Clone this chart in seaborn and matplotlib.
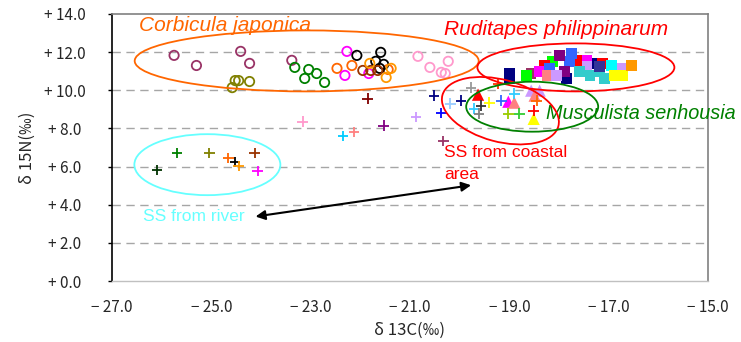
import matplotlib
matplotlib.use("Agg")
import matplotlib.pyplot as plt
import matplotlib.transforms as mtransforms
import seaborn as sns
import pandas as pd
from matplotlib.patches import Ellipse

# ---------------- data ----------------
# Corbicula japonica (open circles)
corb_x = [-25.75, -25.30, -24.41, -24.23, -23.38,
          -24.58, -24.52, -24.45, -24.23,
          -23.32, -23.12, -23.04, -22.88, -22.72,
          -22.47, -22.17, -21.44,
          -22.27, -22.31, -21.83,
          -22.07, -21.59, -21.69, -21.53, -21.61,
          -21.95, -21.79, -21.65,
          -21.81, -21.48, -21.38,
          -20.84, -20.60, -20.23, -20.37, -20.29]
corb_y = [11.83, 11.30, 12.04, 11.41, 11.57,
          10.14, 10.51, 10.51, 10.46,
          11.20, 10.62, 11.09, 10.88, 10.41,
          11.15, 11.30, 11.09,
          12.04, 10.78, 10.88,
          11.83, 11.99, 11.52, 11.36, 11.15,
          11.04, 11.04, 11.04,
          11.41, 10.67, 11.15,
          11.78, 11.20, 11.52, 10.94, 10.88]
corb_c = ["#993366"] * 5 + ["#808000"] * 4 + ["#008000"] * 5 + ["#ff6600"] * 3 + \
         ["#ff00ff"] * 3 + ["#000000"] * 5 + ["#993300"] * 3 + ["#ff9900"] * 3 + ["#ff99cc"] * 5

# Ruditapes philippinarum (filled squares)
rud_x = [-19.00, -19.00, -17.85, -17.32,
         -18.56,
         -18.66, -18.13, -17.48,
         -18.29, -17.59, -17.12,
         -18.39, -17.44,
         -17.75, -18.19, -17.79,
         -17.99, -17.89,
         -18.23,
         -18.05, -17.44, -16.74,
         -17.59, -17.38, -17.18, -17.08,
         -16.94,
         -17.18,
         -16.88, -16.72,
         -16.54]
rud_y = [10.88, 10.62, 10.62, 11.41,
         10.88,
         10.78, 11.52, 11.57,
         11.30, 11.57, 11.41,
         10.99, 11.57,
         11.94, 11.15, 11.52,
         11.83, 10.99,
         10.78,
         10.78, 11.25, 11.15,
         10.99, 10.78, 10.99, 10.62,
         11.30,
         11.25,
         10.78, 10.78,
         11.30]
rud_c = ["#000080"] * 4 + ["#993366"] + ["#00ff00"] * 3 + ["#ff0000"] * 3 + ["#ff00ff"] * 2 + \
        ["#3366ff"] * 3 + ["#800080"] * 2 + ["#ff8080"] + ["#cc99ff"] * 3 + ["#33cccc"] * 4 + \
        ["#00ffff"] + ["#333399"] + ["#ffff00"] * 2 + ["#ff9900"]

# Musculista senhousia (filled triangles)
mus_x = [-19.63, -19.02, -18.90, -18.56, -18.39, -18.49, -18.51]
mus_y = [9.77, 9.40, 9.35, 9.98, 9.98, 9.72, 8.50]
mus_c = ["#ff0000", "#ff00ff", "#ff8080", "#cc99ff", "#cc99ff", "#ff8080", "#ffff00"]

# Suspended solids (plus markers)
ss_x = [-26.09, -25.69, -25.04, -24.66, -24.52, -24.45, -24.13, -24.07,
        -21.85, -23.16, -22.35, -22.13, -21.53, -20.88, -20.33, -20.52, -20.37, -20.19,
        -19.97, -19.77, -19.22, -19.57, -19.40, -19.71, -19.61, -19.16, -18.90,
        -18.45, -19.02, -18.80, -18.51]
ss_y = [5.81, 6.71, 6.71, 6.44, 6.23, 6.02, 6.71, 5.76,
        9.56, 8.35, 7.61, 7.82, 8.14, 8.61, 7.34, 9.72, 8.82, 9.30,
        9.46, 10.14, 10.35, 9.19, 9.35, 9.03, 8.77, 9.46, 9.83,
        9.46, 8.77, 8.77, 8.93]
ss_c = ["#003300", "#008000", "#808000", "#ff6600", "#000000", "#ff9900", "#993300", "#ff00ff",
        "#800000", "#ff99cc", "#00ccff", "#ff8080", "#800080", "#cc99ff", "#993366", "#000080",
        "#0000ff", "#99ccff",
        "#000080", "#999999", "#ff3300", "#333333", "#ffff00", "#33ccff", "#808080", "#3366ff",
        "#33ccff", "#ff6600", "#99cc00", "#33cc33", "#ff0000"]

xticks = [-27, -25, -23, -21, -19, -17, -15]
xticklabels = ["− 27.0", "− 25.0", "− 23.0", "− 21.0", "− 19.0", "− 17.0", "− 15.0"]
yticks = [0, 2, 4, 6, 8, 10, 12, 14]
yticklabels = ["+ 0.0", "+ 2.0", "+ 4.0", "+ 6.0", "+ 8.0", "+ 10.0", "+ 12.0", "+ 14.0"]

# ---------------- plot ----------------
sns.set_style("white")
plt.rcParams["font.family"] = ["Noto Sans CJK JP", "DejaVu Sans"]

fig = plt.figure(figsize=(7.41, 3.42), dpi=100)
ax = fig.add_axes([112 / 741, 1 - 281 / 342, 596 / 741, 267 / 342])

ax.set_xlim(-27, -15)
ax.set_ylim(0, 14)
for yv in yticks[1:-1]:
    ax.axhline(yv, color="#a6a6a6", lw=1.0, linestyle=(0, (6, 4)), zorder=0)

df_c = pd.DataFrame({"x": corb_x, "y": corb_y, "c": corb_c})
df_r = pd.DataFrame({"x": rud_x, "y": rud_y, "c": rud_c})
df_m = pd.DataFrame({"x": mus_x, "y": mus_y, "c": mus_c})
df_s = pd.DataFrame({"x": ss_x, "y": ss_y, "c": ss_c})

def pal(cols):
    return {c: c for c in cols}

sns.scatterplot(data=df_c, x="x", y="y", hue="c", palette=pal(corb_c), marker="o",
                s=45, legend=False, ax=ax, zorder=3)
coll = ax.collections[-1]
fc = coll.get_facecolors()
coll.set_edgecolors(fc)
coll.set_facecolors("none")
coll.set_linewidths(1.3)

sns.scatterplot(data=df_r, x="x", y="y", hue="c", palette=pal(rud_c), marker="s",
                s=58, linewidth=0, legend=False, ax=ax, zorder=3)
sns.scatterplot(data=df_m, x="x", y="y", hue="c", palette=pal(mus_c), marker="^",
                s=78, linewidth=0, legend=False, ax=ax, zorder=3)
sns.scatterplot(data=df_s, x="x", y="y", hue="c", palette=pal(ss_c), marker="+",
                s=58, linewidth=1.3, legend=False, ax=ax, zorder=3)

# ellipses (sizes in pixels, drawn in a pixel-scaled data frame so tilt is visual)
sx = 596 / 12.0
sy = 267 / 14.0
pix = mtransforms.Affine2D().scale(1 / sx, 1 / sy) + ax.transData
ells = [((-23.08, 11.54), 344, 61, 0, "#ff6600"),
        ((-17.66, 11.20), 197, 48, 0, "#ff0000"),
        ((-19.18, 8.93), 120, 62, -15, "#ff0000"),
        ((-18.54, 9.14), 132, 50, 0, "#008000"),
        ((-25.08, 6.10), 146, 61, 0, "#66ffff")]
for (cx, cy), w, h, ang, col in ells:
    ax.add_patch(Ellipse((cx * sx, cy * sy), w, h, angle=ang, fill=False, edgecolor=col,
                         lw=1.3, zorder=4, transform=pix))

ital = dict(family="Liberation Sans", style="italic", va="baseline")
ax.text(-26.45, 13.10, "Corbicula japonica", color="#ff6600", fontsize=15, **ital)
ax.text(-20.31, 12.89, "Ruditapes philippinarum", color="#ff0000", fontsize=15, **ital)
ax.text(-18.27, 8.50, "Musculista senhousia", color="#008000", fontsize=14.3, **ital)

norm = dict(family="Liberation Sans", fontsize=12.5, va="baseline")
ax.text(-20.31, 6.50, "SS from coastal", color="#ff0000", **norm)
ax.text(-20.31, 5.34, "area", color="#ff0000", **norm)
ax.text(-26.37, 3.17, "SS from river", color="#66ffff", **norm)

ax.annotate("", xy=(-24.11, 3.38), xytext=(-19.77, 5.02),
            arrowprops=dict(arrowstyle="<|-|>", color="black", lw=1.5, mutation_scale=14,
                            shrinkA=0, shrinkB=0), zorder=5)

ax.set_xticks(xticks)
ax.set_xticklabels(xticklabels)
ax.set_yticks(yticks)
ax.set_yticklabels(yticklabels, ha="center")
ax.tick_params(axis="x", length=0, pad=13, labelsize=11)
ax.tick_params(axis="y", length=3, width=1, color="black", direction="out", pad=31, labelsize=11, left=True)

for side in ["top", "right"]:
    ax.spines[side].set_color("#808080")
    ax.spines[side].set_linewidth(1.2)
ax.spines["bottom"].set_color("#c0c0c0")
ax.spines["bottom"].set_linewidth(1.0)
ax.spines["left"].set_color("black")
ax.spines["left"].set_linewidth(1.2)

ax.set_xlabel("δ 13C(‰)", fontsize=12)
ax.set_ylabel("δ 15N(‰)", fontsize=12)
ax.xaxis.set_label_coords(0.5, -0.152)
ax.yaxis.set_label_coords(-0.128, 0.5)

fig.savefig("out.png", dpi=100)
